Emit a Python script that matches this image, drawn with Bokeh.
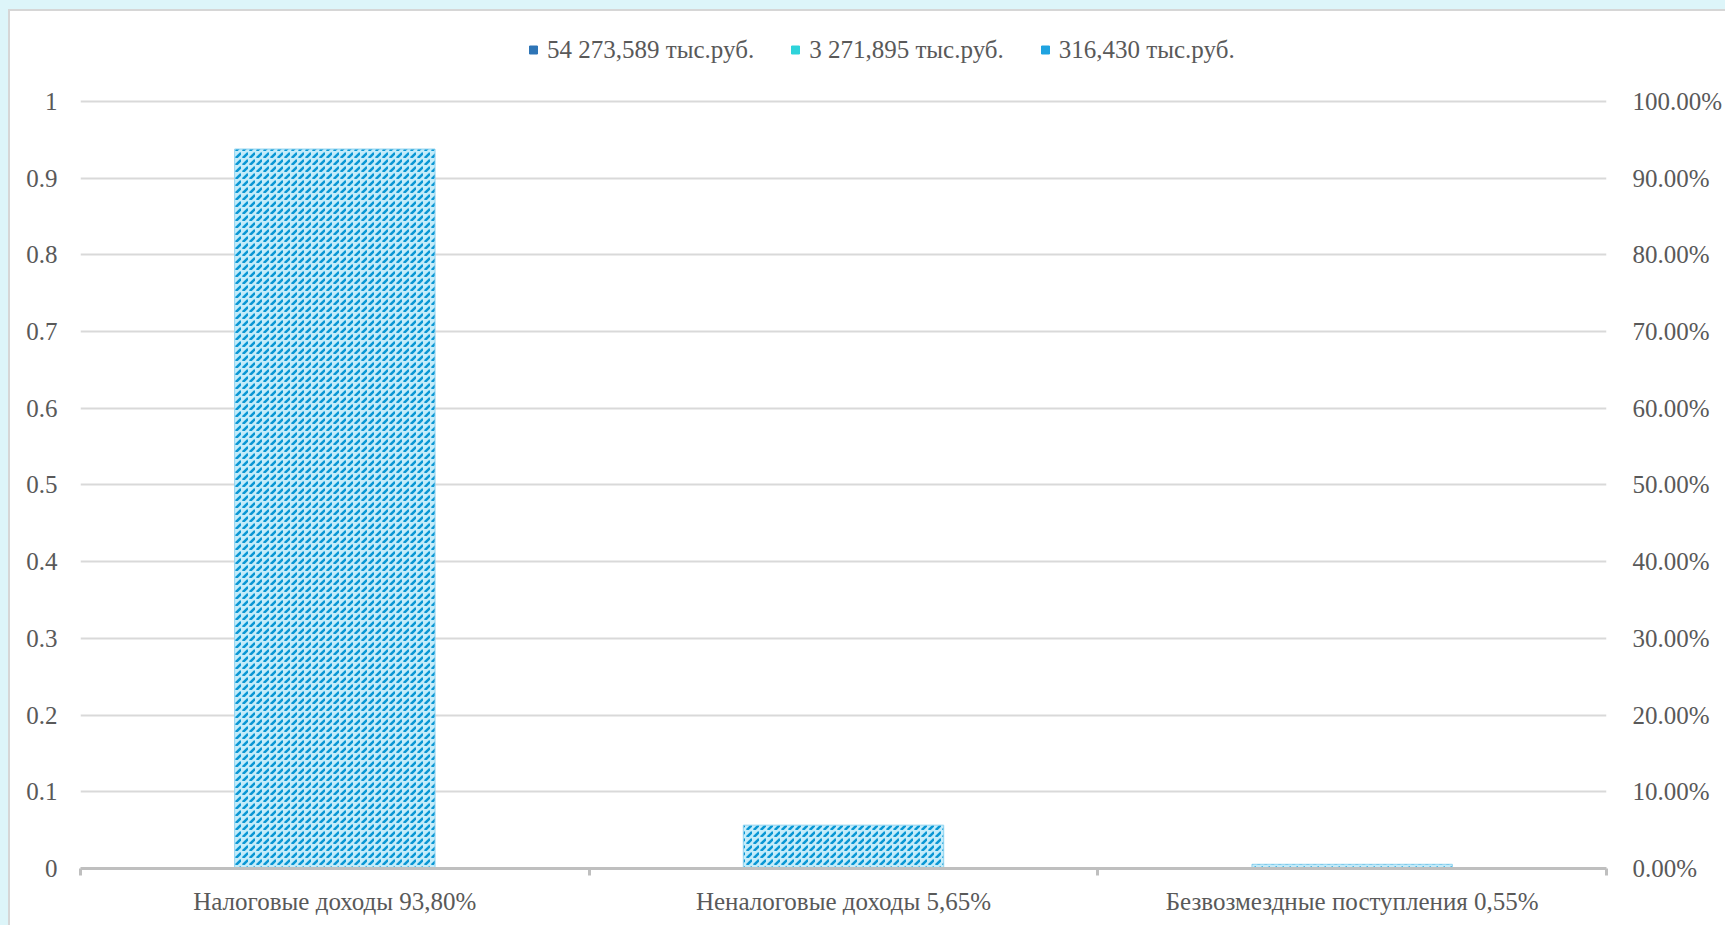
from bokeh.plotting import figure
from bokeh.layouts import column
from bokeh.models import (Range1d, FixedTicker, LinearAxis, Legend, LegendItem,
                          ColumnDataSource, Grid)
from bokeh.embed import file_html
from bokeh.resources import INLINE

# ---- data ----
categories = ["Налоговые доходы 93,80%", "Неналоговые доходы 5,65%",
              "Безвозмездные поступления 0,55%"]
shares = [0.938, 0.0565, 0.0055]
legend_labels = ["54 273,589 тыс.руб.", "3 271,895 тыс.руб.", "316,430 тыс.руб."]
legend_colors = ["#2E75B6", "#2ED3DA", "#1FA3E0"]
y_ticks = [0, 0.1, 0.2, 0.3, 0.4, 0.5, 0.6, 0.7, 0.8, 0.9, 1]
y_tick_labels = ["0", "0.1", "0.2", "0.3", "0.4", "0.5", "0.6", "0.7", "0.8", "0.9", "1"]
y2_tick_labels = ["0.00%", "10.00%", "20.00%", "30.00%", "40.00%", "50.00%",
                  "60.00%", "70.00%", "80.00%", "90.00%", "100.00%"]

FONT = "Liberation Serif"
TXT = "#595959"
FS = "25px"

n = len(categories)
xs = [i + 0.5 for i in range(n)]
bounds = [float(i) for i in range(n + 1)]

# frame extends above the last gridline so the legend can sit inside it
p = figure(width=1715, height=914, x_range=Range1d(0, n), y_range=Range1d(0, 1.1043),
           output_backend="svg", toolbar_location=None,
           x_axis_location=None, y_axis_location=None,
           min_border_left=70, min_border_right=115, min_border_top=10,
           min_border_bottom=57)
p.outline_line_color = None
p.background_fill_color = "white"
p.border_fill_color = "white"
p.grid.grid_line_color = None

# y axes
left = LinearAxis(ticker=FixedTicker(ticks=y_ticks),
                  major_label_overrides={t: l for t, l in zip(y_ticks, y_tick_labels)})
right = LinearAxis(ticker=FixedTicker(ticks=y_ticks),
                   major_label_overrides={t: l for t, l in zip(y_ticks, y2_tick_labels)})
for ax in (left, right):
    ax.axis_line_color = None
    ax.major_tick_line_color = None
    ax.major_tick_out = 0
    ax.major_tick_in = 0
    ax.minor_tick_line_color = None
    ax.major_label_text_font = FONT
    ax.major_label_text_font_size = FS
    ax.major_label_text_color = TXT
left.major_label_standoff = 23
right.major_label_standoff = 26
p.add_layout(left, "left")
p.add_layout(right, "right")

p.add_layout(Grid(dimension=1, ticker=left.ticker, grid_line_color="#D9D9D9",
                  grid_line_width=2))

# x axis: labels at category centres, minor ticks at category boundaries
xa = LinearAxis(ticker=FixedTicker(ticks=xs, minor_ticks=bounds),
                major_label_overrides={x: c for x, c in zip(xs, categories)})
xa.axis_line_color = "#BFBFBF"
xa.axis_line_width = 3
xa.major_tick_line_color = None
xa.major_tick_out = 7
xa.major_tick_in = 0
xa.minor_tick_line_color = "#BFBFBF"
xa.minor_tick_line_width = 3
xa.minor_tick_out = 7
xa.minor_tick_in = 0
xa.major_label_text_font = FONT
xa.major_label_text_font_size = FS
xa.major_label_text_color = TXT
xa.major_label_standoff = 12
p.add_layout(xa, "below")

# bars
p.vbar(x=xs, top=shares, bottom=0, width=0.394,
       fill_color="#C4ECFA", line_color="#8FD3F0", line_width=1,
       hatch_pattern="right_diagonal_dash", hatch_color="#0A97D4",
       hatch_scale=7, hatch_weight=2.5)

# legend markers (zero-size in the plot; the legend draws them)
src = ColumnDataSource(dict(x=xs, y=shares, color=legend_colors, label=legend_labels))
r = p.scatter("x", "y", source=src, marker="square", size=0,
              fill_color="color", line_color="color")
items = [LegendItem(label=legend_labels[i], renderers=[r], index=i) for i in range(n)]
legend = Legend(items=items, orientation="horizontal", location=(443, 804),
                glyph_width=20, glyph_height=29, label_height=29,
                label_standoff=4, spacing=31, padding=0, margin=0,
                label_text_font=FONT, label_text_font_size=FS, label_text_color=TXT,
                border_line_color=None, background_fill_alpha=0)
p.add_layout(legend, "center")

inner = column(p, styles={"background-color": "white",
                          "border-left": "2px solid #D6D6D6",
                          "border-top": "2px solid #D6D6D6"})
page = column(inner, styles={"background-color": "#DDF5F9", "padding": "9px 0 0 8px"})

open("out.html", "w").write(file_html(page, INLINE))
